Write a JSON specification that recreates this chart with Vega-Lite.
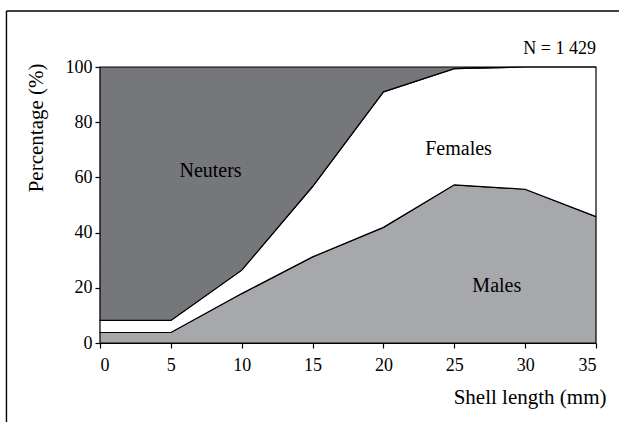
{
  "$schema": "https://vega.github.io/schema/vega-lite/v6.json",
  "autosize": "none",
  "width": 496,
  "height": 276,
  "padding": {"left": 100, "top": 67, "right": 23, "bottom": 79},
  "background": "white",
  "config": {
    "view": {"stroke": null},
    "font": "Liberation Serif, serif",
    "text": {"font": "Liberation Serif, serif"},
    "axis": {"grid": false, "domainColor": "black", "tickColor": "black", "labelColor": "black", "titleColor": "black", "labelFont": "Liberation Serif, serif", "titleFont": "Liberation Serif, serif", "titleFontWeight": "normal", "labelFontSize": 18, "titleFontSize": 21, "tickSize": 5, "domainWidth": 1.2, "tickWidth": 1.2}
  },
  "title": {"text": "N = 1 429", "anchor": "end", "frame": "group", "font": "Liberation Serif, serif", "fontSize": 18, "fontWeight": "normal", "color": "black", "offset": -48},
  "layer": [
    {
      "data": {"values": [
        {"length": 0, "sex": "Males", "rank": 1, "pct": 3.8},
        {"length": 5, "sex": "Males", "rank": 1, "pct": 3.8},
        {"length": 10, "sex": "Males", "rank": 1, "pct": 17.9},
        {"length": 15, "sex": "Males", "rank": 1, "pct": 31.2},
        {"length": 20, "sex": "Males", "rank": 1, "pct": 41.9},
        {"length": 25, "sex": "Males", "rank": 1, "pct": 57.3},
        {"length": 30, "sex": "Males", "rank": 1, "pct": 55.7},
        {"length": 35, "sex": "Males", "rank": 1, "pct": 45.8},
        {"length": 0, "sex": "Females", "rank": 2, "pct": 4.4},
        {"length": 5, "sex": "Females", "rank": 2, "pct": 4.4},
        {"length": 10, "sex": "Females", "rank": 2, "pct": 8.5},
        {"length": 15, "sex": "Females", "rank": 2, "pct": 25.5},
        {"length": 20, "sex": "Females", "rank": 2, "pct": 49.1},
        {"length": 25, "sex": "Females", "rank": 2, "pct": 42.1},
        {"length": 30, "sex": "Females", "rank": 2, "pct": 44.3},
        {"length": 35, "sex": "Females", "rank": 2, "pct": 54.2},
        {"length": 0, "sex": "Neuters", "rank": 3, "pct": 91.8},
        {"length": 5, "sex": "Neuters", "rank": 3, "pct": 91.8},
        {"length": 10, "sex": "Neuters", "rank": 3, "pct": 73.6},
        {"length": 15, "sex": "Neuters", "rank": 3, "pct": 43.3},
        {"length": 20, "sex": "Neuters", "rank": 3, "pct": 9.0},
        {"length": 25, "sex": "Neuters", "rank": 3, "pct": 0.6},
        {"length": 30, "sex": "Neuters", "rank": 3, "pct": 0},
        {"length": 35, "sex": "Neuters", "rank": 3, "pct": 0}
      ]},
      "mark": {"type": "area", "stroke": "black", "strokeWidth": 1.2, "strokeJoin": "miter"},
      "encoding": {
        "x": {"field": "length", "type": "quantitative", "scale": {"domain": [0, 35], "nice": false}, "axis": {"values": [0, 5, 10, 15, 20, 25, 30, 35], "title": "Shell length (mm)", "labelPadding": 8, "titleAnchor": "end", "titleAlign": "right", "titleX": 506, "titleY": 60, "titleBaseline": "alphabetic"}},
        "y": {"field": "pct", "type": "quantitative", "stack": "zero", "scale": {"domain": [0, 100], "nice": false}, "axis": {"values": [0, 20, 40, 60, 80, 100], "title": "Percentage (%)", "labelPadding": 3, "titleAngle": -90, "titleAlign": "right", "titleBaseline": "middle", "titleX": -64, "titleY": -4}},
        "color": {"field": "sex", "type": "nominal", "scale": {"domain": ["Males", "Females", "Neuters"], "range": ["#a7a8ac", "#ffffff", "#76777a"]}, "legend": null},
        "order": {"field": "rank", "type": "quantitative", "sort": "ascending"}
      }
    },
    {
      "data": {"values": [
        {"label": "Neuters", "lx": 7.8, "ly": 62.4},
        {"label": "Females", "lx": 25.3, "ly": 70.3},
        {"label": "Males", "lx": 28, "ly": 20.6}
      ]},
      "mark": {"type": "text", "font": "Liberation Serif, serif", "fontSize": 20, "color": "black", "align": "center", "baseline": "middle"},
      "encoding": {
        "x": {"field": "lx", "type": "quantitative"},
        "y": {"field": "ly", "type": "quantitative"},
        "text": {"field": "label"}
      }
    },
    {
      "data": {"values": [{"frame": "left"}]},
      "mark": {"type": "rule", "color": "black", "strokeWidth": 1.4, "clip": false},
      "encoding": {
        "x": {"datum": -6.6, "type": "quantitative"},
        "y": {"datum": 120.3, "type": "quantitative"},
        "y2": {"datum": -30}
      }
    },
    {
      "data": {"values": [{"frame": "top"}]},
      "mark": {"type": "rule", "color": "black", "strokeWidth": 1.4, "clip": false},
      "encoding": {
        "x": {"datum": -6.6, "type": "quantitative"},
        "x2": {"datum": 38},
        "y": {"datum": 120.3, "type": "quantitative"}
      }
    }
  ]
}
